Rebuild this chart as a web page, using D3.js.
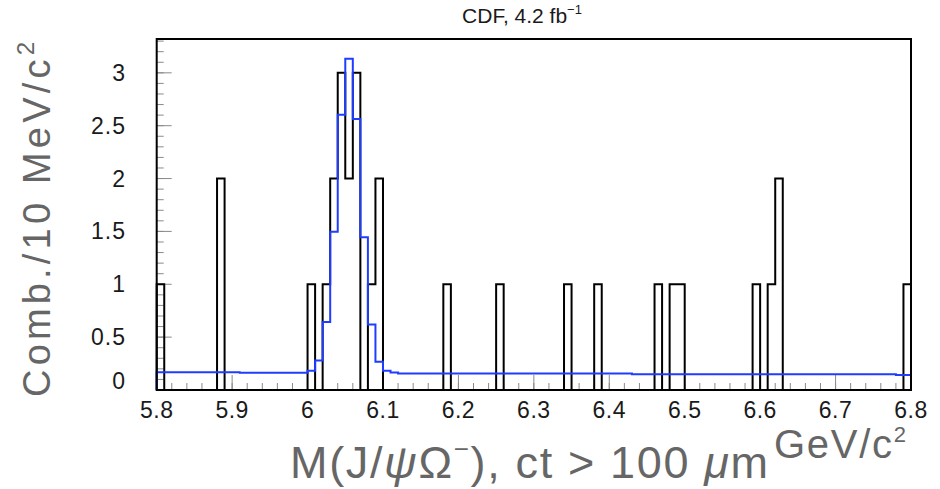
<!DOCTYPE html>
<html>
<head>
<meta charset="utf-8">
<script src="https://cdn.jsdelivr.net/npm/d3@7/dist/d3.min.js"></script>
<style>
  body { margin: 0; background: #fff; }
  svg { display: block; }
  text { font-family: "Liberation Sans", Arial, sans-serif; }
</style>
</head>
<body>
<svg id="chart" width="940" height="489"></svg>
<script>
// Mass histogram: 10 MeV/c^2 bins from 5.80 to 6.80 GeV/c^2
const binLow = 5.8;
const binWidth = 0.01;

// Candidate counts per bin
const counts = [
  1, 0, 0, 0, 0, 0, 0, 0, 2, 0,
  0, 0, 0, 0, 0, 0, 0, 0, 0, 0,
  1, 0, 1, 2, 3, 2, 3, 0, 1, 2,
  0, 0, 0, 0, 0, 0, 0, 0, 1, 0,
  0, 0, 0, 0, 0, 1, 0, 0, 0, 0,
  0, 0, 0, 0, 1, 0, 0, 0, 1, 0,
  0, 0, 0, 0, 0, 0, 1, 0, 1, 1,
  0, 0, 0, 0, 0, 0, 0, 0, 0, 1,
  0, 1, 2, 0, 0, 0, 0, 0, 0, 0,
  0, 0, 0, 0, 0, 0, 0, 0, 0, 1
];

// Fitted model (signal + background), value per bin
const fitValues = [
  0.168, 0.168, 0.168, 0.168, 0.168, 0.168, 0.168, 0.168, 0.168, 0.168,
  0.168, 0.162, 0.162, 0.162, 0.162, 0.162, 0.162, 0.162, 0.162, 0.162,
  0.183, 0.278, 0.644, 1.496, 2.604, 3.134, 2.563, 1.446, 0.619, 0.268,
  0.183, 0.165, 0.157, 0.157, 0.157, 0.157, 0.157, 0.157, 0.157, 0.157,
  0.157, 0.157, 0.157, 0.157, 0.157, 0.157, 0.157, 0.157, 0.157, 0.157,
  0.157, 0.157, 0.157, 0.157, 0.157, 0.157, 0.157, 0.157, 0.157, 0.157,
  0.157, 0.157, 0.157, 0.150, 0.150, 0.150, 0.150, 0.150, 0.150, 0.150,
  0.150, 0.150, 0.150, 0.150, 0.150, 0.150, 0.150, 0.150, 0.150, 0.150,
  0.150, 0.150, 0.150, 0.150, 0.150, 0.150, 0.150, 0.150, 0.150, 0.150,
  0.150, 0.150, 0.150, 0.150, 0.150, 0.150, 0.150, 0.150, 0.142, 0.142
];

const xTicks = [5.8, 5.9, 6.0, 6.1, 6.2, 6.3, 6.4, 6.5, 6.6, 6.7, 6.8];
const xTickLabels = ["5.8", "5.9", "6", "6.1", "6.2", "6.3", "6.4", "6.5", "6.6", "6.7", "6.8"];
const yTicks = [0, 0.5, 1, 1.5, 2, 2.5, 3];
const yTickLabels = ["0", "0.5", "1", "1.5", "2", "2.5", "3"];
const xDomain = [5.8, 6.8];
const yDomain = [0, 3.32];

const svg = d3.select("#chart");
const frame = { left: 156.7, right: 911, top: 39, bottom: 390 };

const x = d3.scaleLinear().domain(xDomain).range([frame.left, frame.right]);
const y = d3.scaleLinear().domain(yDomain).range([frame.bottom, frame.top]);

// Minor ticks: every 0.02 on x, every 0.1 on y
const xMinor = d3.range(0, 51).map(i => +(5.8 + i * 0.02).toFixed(3));
const yMinor = d3.range(0, 34).map(i => +(i * 0.1).toFixed(2));

const tickColor = "#8a8a8a";
const ticks = svg.append("g").attr("stroke", tickColor).attr("stroke-width", 1);
ticks.selectAll("line.xmin").data(xMinor).join("line")
  .attr("x1", d => x(d)).attr("x2", d => x(d))
  .attr("y1", frame.bottom).attr("y2", frame.bottom - 7);
ticks.selectAll("line.xmaj").data(xTicks).join("line")
  .attr("x1", d => x(d)).attr("x2", d => x(d))
  .attr("y1", frame.bottom).attr("y2", frame.bottom - 15);
ticks.selectAll("line.ymin").data(yMinor).join("line")
  .attr("x1", frame.left).attr("x2", frame.left + 7)
  .attr("y1", d => y(d)).attr("y2", d => y(d));
ticks.selectAll("line.ymaj").data(yTicks).join("line")
  .attr("x1", frame.left).attr("x2", frame.left + 15)
  .attr("y1", d => y(d)).attr("y2", d => y(d));

// Step outline of a binned series, closed down to zero at both ends
function stepVertices(values) {
  const pts = [[binLow, 0]];
  values.forEach((v, i) => {
    const lo = binLow + i * binWidth;
    pts.push([lo, v], [lo + binWidth, v]);
  });
  pts.push([binLow + values.length * binWidth, 0]);
  return pts;
}
const line = d3.line().x(d => x(d[0])).y(d => y(d[1]));

svg.append("path")
  .attr("d", line(stepVertices(counts)))
  .attr("fill", "none").attr("stroke", "#000").attr("stroke-width", 2)
  .attr("stroke-linejoin", "miter");

svg.append("path")
  .attr("d", line(stepVertices(fitValues)))
  .attr("fill", "none").attr("stroke", "#1f3dff").attr("stroke-width", 2);

// Frame
svg.append("rect")
  .attr("x", frame.left).attr("y", frame.top)
  .attr("width", frame.right - frame.left).attr("height", frame.bottom - frame.top)
  .attr("fill", "none").attr("stroke", "#000").attr("stroke-width", 2);

// Tick labels
svg.append("g").selectAll("text").data(xTicks).join("text")
  .attr("x", d => x(d)).attr("y", 418)
  .attr("text-anchor", "middle").attr("font-size", 23).attr("letter-spacing", 0.5)
  .attr("fill", "#1a1a1a")
  .text((d, i) => xTickLabels[i]);

svg.append("g").selectAll("text").data(yTicks).join("text")
  .attr("x", 126).attr("y", d => y(d) + 8 - (d === 0 ? 9 : 0))
  .attr("text-anchor", "end").attr("font-size", 23).attr("letter-spacing", 1)
  .attr("fill", "#1a1a1a")
  .text((d, i) => yTickLabels[i]);

// Title
const title = svg.append("text")
  .attr("x", 522).attr("y", 23).attr("text-anchor", "middle")
  .attr("font-size", 21).attr("fill", "#1a1a1a");
title.append("tspan").text("CDF, 4.2 fb");
title.append("tspan").attr("font-size", 13).attr("dy", -9).text("−1");

// Stretch a text element to a target length with letter spacing
function fitLength(sel, target) {
  const node = sel.node();
  const n = node.textContent.length;
  const w = node.getComputedTextLength();
  sel.attr("letter-spacing", (target - w) / (n - 1));
}

// Y axis title
const yTitle = svg.append("text")
  .attr("transform", "translate(50,397) rotate(-90)")
  .attr("text-anchor", "start").attr("font-size", 38).attr("fill", "#666");
yTitle.append("tspan").text("Comb./10 MeV/c");
yTitle.append("tspan").attr("font-size", 24).attr("dy", -16).text("2");
fitLength(yTitle, 355);

// X axis title
const xTitle = svg.append("text")
  .attr("x", 290).attr("y", 478).attr("font-size", 45).attr("fill", "#666");
xTitle.append("tspan").text("M(J/");
xTitle.append("tspan").attr("font-style", "italic").text("ψ");
xTitle.append("tspan").text("Ω");
xTitle.append("tspan").attr("font-size", 26).attr("dy", -20).text("−");
xTitle.append("tspan").attr("dy", 20).text("), ct > 100 ");
xTitle.append("tspan").attr("font-style", "italic").text("μ");
xTitle.append("tspan").text("m");
fitLength(xTitle, 478);

const unit = svg.append("text")
  .attr("x", 774).attr("y", 458).attr("font-size", 40).attr("fill", "#666");
unit.append("tspan").text("GeV/c");
unit.append("tspan").attr("font-size", 22).attr("dy", -16).text("2");
fitLength(unit, 132);
</script>
</body>
</html>
